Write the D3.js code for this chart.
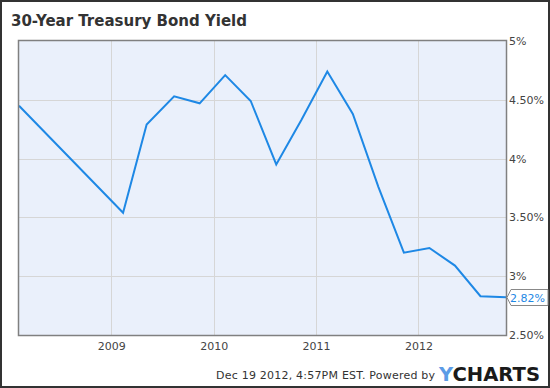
<!DOCTYPE html>
<html>
<head>
<meta charset="utf-8">
<script src="https://cdn.jsdelivr.net/npm/d3@7"></script>
<style>
  html, body { margin: 0; padding: 0; background: #fff; }
  svg { display: block; font-family: "DejaVu Sans", sans-serif; }
</style>
</head>
<body>
<svg id="chart"></svg>
<script>
// quarterly observations of the 30-year yield (%)
var dates = ['2008-02-07', '2009-02-12', '2009-05-07', '2009-08-13', '2009-11-12',
             '2010-02-11', '2010-05-13', '2010-08-12', '2010-11-10', '2011-02-10',
             '2011-05-12', '2011-08-11', '2011-11-10', '2012-02-09', '2012-05-10',
             '2012-08-09', '2012-11-08'];
var yields = [4.45, 3.54, 4.29, 4.53, 4.47,
              4.71, 4.49, 3.95, 4.33, 4.74,
              4.38, 3.76, 3.20, 3.24, 3.09,
              2.83, 2.82];
var yTicks = [2.5, 3, 3.5, 4, 4.5, 5];
var xTickYears = ['2009', '2010', '2011', '2012'];

var W = 550, H = 388;
var plot = {left: 19, right: 506, top: 41, bottom: 335};

var parse = d3.timeParse('%Y-%m-%d');
var data = dates.map(function(d, i) { return {date: parse(d), value: yields[i]}; });

var svg = d3.select('#chart').attr('width', W).attr('height', H);

// frame
svg.append('rect').attr('x', 1).attr('y', 1).attr('width', W - 2).attr('height', H - 2)
    .attr('fill', '#fff').attr('stroke', '#333').attr('stroke-width', 2);

svg.append('text')
    .attr('x', 11).attr('y', 26)
    .attr('font-size', 16).attr('font-weight', 'bold').attr('fill', '#333')
    .attr('textLength', 236).attr('lengthAdjust', 'spacingAndGlyphs')
    .text('30-Year Treasury Bond Yield');

var x = d3.scaleTime()
    .domain(d3.extent(data, function(d) { return d.date; }))
    .range([plot.left, plot.right]);
var y = d3.scaleLinear().domain([2.5, 5]).range([plot.bottom, plot.top]);

svg.append('rect')
    .attr('x', plot.left).attr('y', plot.top)
    .attr('width', plot.right - plot.left).attr('height', plot.bottom - plot.top)
    .attr('fill', '#eaf0fb');

var grid = svg.append('g');
yTicks.slice(1, -1).forEach(function(v) {
    grid.append('line').attr('x1', plot.left).attr('x2', plot.right)
        .attr('y1', Math.round(y(v)) + 0.5).attr('y2', Math.round(y(v)) + 0.5)
        .attr('stroke', '#d6d6d6').attr('stroke-width', 1);
});
var yearDates = xTickYears.map(function(s) { return d3.timeParse('%Y')(s); });
yearDates.forEach(function(d) {
    grid.append('line').attr('y1', plot.top).attr('y2', plot.bottom)
        .attr('x1', Math.round(x(d)) + 0.5).attr('x2', Math.round(x(d)) + 0.5)
        .attr('stroke', '#d6d6d6').attr('stroke-width', 1);
});

var line = d3.line()
    .x(function(d) { return x(d.date); })
    .y(function(d) { return y(d.value); });

svg.append('path').datum(data)
    .attr('d', line)
    .attr('fill', 'none')
    .attr('stroke', '#1e88e5')
    .attr('stroke-width', 2)
    .attr('stroke-linejoin', 'miter');

svg.append('rect')
    .attr('x', plot.left - 0.5).attr('y', plot.top - 0.5)
    .attr('width', plot.right - plot.left + 1).attr('height', plot.bottom - plot.top + 1)
    .attr('fill', 'none').attr('stroke', '#808080').attr('stroke-width', 1.5);

function fmtPct(v) {
    return (v % 1 === 0 ? v.toFixed(0) : v.toFixed(2)) + '%';
}

var yAxis = d3.axisRight(y).tickValues(yTicks).tickSize(0).tickPadding(3).tickFormat(fmtPct);
svg.append('g').attr('transform', 'translate(' + plot.right + ',0)')
    .call(yAxis)
    .call(function(g) { g.select('.domain').remove(); })
    .selectAll('text')
    .attr('font-family', '"DejaVu Sans", sans-serif')
    .attr('font-size', 11).attr('fill', '#444');

var xAxis = d3.axisBottom(x).tickValues(yearDates).tickSize(0).tickPadding(7)
    .tickFormat(d3.timeFormat('%Y'));
svg.append('g').attr('transform', 'translate(0,' + plot.bottom + ')')
    .call(xAxis)
    .call(function(g) { g.select('.domain').remove(); })
    .selectAll('text')
    .attr('font-family', '"DejaVu Sans", sans-serif')
    .attr('font-size', 11).attr('fill', '#444');

// last value callout
var last = data[data.length - 1];
var ly = Math.round(y(last.value)) + 0.5;
var bx = plot.right + 1;
svg.append('path')
    .attr('d', 'M' + bx + ',' + ly + ' L' + (bx + 4) + ',' + (ly - 8) + ' L548,' + (ly - 8) +
               ' L548,' + (ly + 8) + ' L' + (bx + 4) + ',' + (ly + 8) + ' Z')
    .attr('fill', '#fff').attr('stroke', '#888').attr('stroke-width', 1);
svg.append('text')
    .attr('x', bx + 3).attr('y', ly + 4)
    .attr('font-size', 11).attr('fill', '#1e88e5')
    .text(fmtPct(last.value));

// footer
svg.append('text')
    .attr('x', 216).attr('y', 379)
    .attr('font-size', 11).attr('fill', '#333')
    .attr('textLength', 219).attr('lengthAdjust', 'spacing')
    .text('Dec 19 2012, 4:57PM EST. Powered by');
var logo = svg.append('text')
    .attr('x', 439).attr('y', 381)
    .attr('font-size', 19).attr('font-weight', 'bold')
    .attr('textLength', 101).attr('lengthAdjust', 'spacingAndGlyphs');
logo.append('tspan').attr('fill', '#5b9be6').text('Y');
logo.append('tspan').attr('fill', '#1a1a1a').text('CHARTS');
</script>
</body>
</html>
